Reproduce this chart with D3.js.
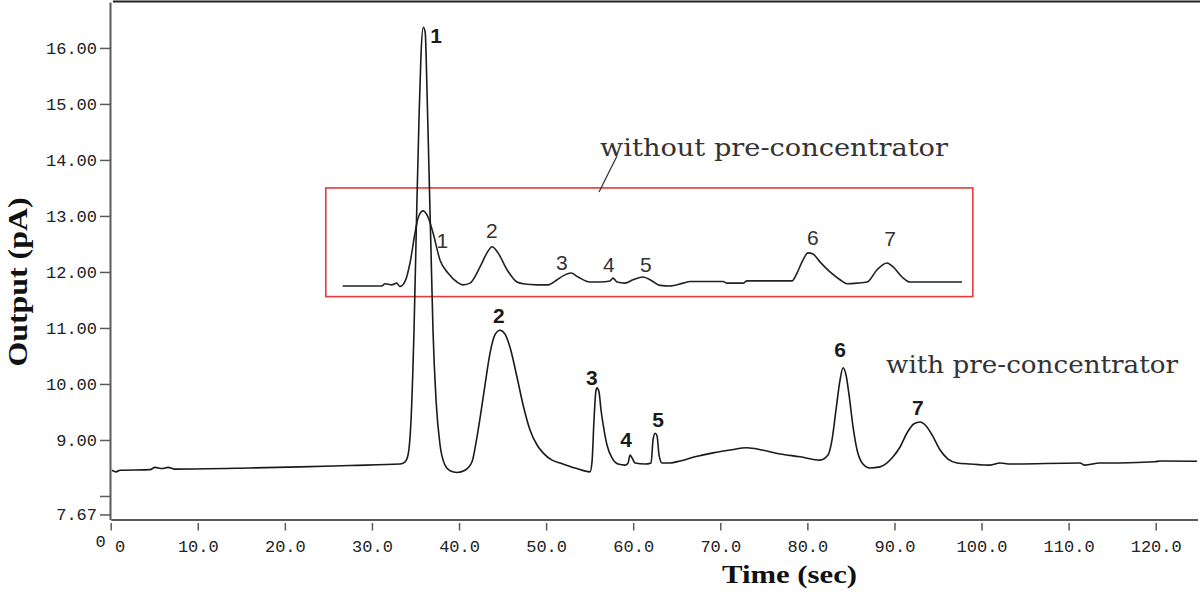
<!DOCTYPE html>
<html>
<head>
<meta charset="utf-8">
<script src="https://cdn.jsdelivr.net/npm/d3@7"></script>
<style>
  html, body { margin: 0; padding: 0; background: #fff; }
  svg { display: block; }
</style>
</head>
<body>
<svg id="chart" width="1200" height="597"></svg>
<script>
// ---------- data ----------
const xTicks = [0, 10, 20, 30, 40, 50, 60, 70, 80, 90, 100, 110, 120];
const xTickLabels = ["0", "10.0", "20.0", "30.0", "40.0", "50.0", "60.0", "70.0", "80.0", "90.0", "100.0", "110.0", "120.0"];
const yTicks = [7.67, 8, 9, 10, 11, 12, 13, 14, 15, 16];
const yTickLabels = ["7.67", "", "9.00", "10.00", "11.00", "12.00", "13.00", "14.00", "15.00", "16.00"];

// with pre-concentrator (time s, output pA)
const withTime = [0.15, 0.61, 1.07, 4.52, 5.09, 5.89, 6.58, 7.38, 15.99, 21.74, 27.48, 33.22, 33.8, 34.14, 34.49, 34.83, 35.17, 35.4, 35.63, 35.9, 36.12, 36.32, 36.55, 36.78, 37.01, 37.36, 37.82, 38.39, 38.97, 39.77, 40.69, 41.49, 42.06, 42.52, 42.98, 43.56, 44.13, 44.71, 45.28, 45.86, 46.66, 47.35, 48.15, 48.96, 49.65, 50.68, 51.6, 53.32, 55.04, 55.27, 55.5, 55.73, 55.84, 56.07, 56.3, 56.65, 56.99, 57.57, 58.26, 59.06, 59.41, 59.64, 59.87, 60.21, 61.36, 62.05, 62.28, 62.51, 62.74, 62.97, 63.31, 64.23, 65.38, 67.1, 69.17, 71.12, 73.07, 74.79, 76.86, 79.16, 81.45, 82.37, 82.83, 83.29, 83.75, 84.1, 84.44, 84.79, 85.25, 85.71, 86.29, 87.2, 88.34, 89.84, 90.64, 91.44, 92.25, 92.94, 93.63, 94.32, 95.24, 96.15, 97.19, 98.68, 100.98, 102.13, 103.27, 111.3, 111.87, 113.6, 115.9, 119.9, 120.5, 124.75];
const withValue = [8.46, 8.43, 8.46, 8.47, 8.51, 8.49, 8.51, 8.48, 8.5, 8.52, 8.545, 8.57, 8.61, 8.73, 9.36, 10.96, 13.29, 14.71, 15.875, 16.37, 16.27, 15.25, 13.82, 12.39, 10.96, 9.71, 8.91, 8.55, 8.45, 8.42, 8.46, 8.61, 9.05, 9.5, 9.98, 10.55, 10.88, 10.96, 10.89, 10.65, 10.12, 9.63, 9.18, 8.91, 8.77, 8.64, 8.59, 8.5, 8.43, 8.61, 9.36, 9.89, 9.93, 9.86, 9.54, 9.18, 8.91, 8.68, 8.57, 8.55, 8.59, 8.73, 8.68, 8.59, 8.57, 8.59, 9.0, 9.12, 9.07, 8.73, 8.59, 8.59, 8.625, 8.7, 8.77, 8.82, 8.86, 8.82, 8.75, 8.7, 8.64, 8.73, 9.0, 9.54, 10.07, 10.29, 10.16, 9.8, 9.23, 8.82, 8.59, 8.5, 8.52, 8.7, 8.875, 9.125, 9.29, 9.32, 9.25, 9.09, 8.82, 8.66, 8.59, 8.57, 8.55, 8.59, 8.57, 8.59, 8.55, 8.59, 8.59, 8.61, 8.625, 8.62];

// without pre-concentrator (inset trace)
const withoutTime = [26.64, 31.12, 31.5, 32.27, 32.84, 33.22, 33.8, 34.37, 34.95, 35.29, 35.86, 36.44, 37.01, 37.82, 38.73, 39.77, 40.46, 41.26, 42.41, 43.21, 43.79, 44.48, 45.51, 46.66, 47.35, 48.96, 50.22, 51.26, 51.94, 52.86, 53.67, 55.04, 56.19, 57.34, 57.68, 58.14, 59.06, 59.98, 61.13, 62.16, 63.08, 64.23, 65.72, 66.53, 70.32, 70.77, 72.61, 73.07, 78.24, 78.81, 79.39, 80.08, 80.65, 81.45, 82.6, 83.75, 84.56, 85.71, 86.86, 88.0, 89.15, 89.84, 90.88, 91.79, 92.94, 94.43, 97.76];
const withoutValue = [11.75, 11.75, 11.79, 11.77, 11.8, 11.74, 11.83, 12.16, 12.7, 12.96, 13.09, 12.98, 12.7, 12.21, 11.98, 11.82, 11.77, 11.8, 12.09, 12.34, 12.45, 12.34, 12.04, 11.82, 11.79, 11.77, 11.77, 11.86, 11.93, 11.98, 11.91, 11.82, 11.82, 11.84, 11.89, 11.82, 11.8, 11.86, 11.91, 11.84, 11.76, 11.75, 11.8, 11.83, 11.83, 11.8, 11.8, 11.84, 11.84, 11.98, 12.18, 12.34, 12.32, 12.18, 12.0, 11.86, 11.79, 11.8, 11.82, 12.04, 12.16, 12.09, 11.91, 11.82, 11.82, 11.82, 11.82];

// peak labels (anchor: centre x in seconds, baseline in pA)
const peakNames = ["1", "2", "3", "4", "5", "6", "7"];
const withLabelT = [37.36, 44.57, 55.25, 59.18, 62.85, 83.75, 92.7];
const withLabelV = [16.09, 11.09, 9.98, 8.875, 9.23, 10.48, 9.45];
const withoutLabelT = [38.07, 43.78, 51.82, 57.2, 61.45, 80.62, 89.5];
const withoutLabelV = [12.43, 12.61, 12.04, 12.0, 12.0, 12.48, 12.46];

// box around inset trace (seconds / pA) and annotation texts
const boxT = [24.7, 99.0];
const boxV = [11.56, 13.5];
const annotationWithout = "without pre-concentrator";
const annotationWith = "with pre-concentrator";
const xTitle = "Time (sec)";
const yTitle = "Output (pA)";

// ---------- chart ----------
const svg = d3.select("#chart");
const x = d3.scaleLinear().domain([0, 124.8]).range([110.7, 1197.5]);
const y = d3.scaleLinear().domain([7.58, 16.82]).range([519.5, 2]);

const monoFont = "'Liberation Mono', 'DejaVu Sans Mono', monospace";
const axisColor = "#5a5a5a";

// top border
svg.append("line")
  .attr("x1", 113).attr("x2", 1200).attr("y1", 1.5).attr("y2", 1.5)
  .attr("stroke", "#222").attr("stroke-width", 2);

// y axis
const yAxis = svg.append("g")
  .attr("transform", `translate(${x(0) - 0.7},0)`)
  .call(d3.axisLeft(y).tickValues(yTicks)
    .tickFormat((d, i) => yTickLabels[i]).tickSize(10).tickSizeOuter(0).tickPadding(3));
yAxis.select(".domain").attr("stroke", axisColor).attr("stroke-width", 2);
yAxis.selectAll(".tick line").attr("stroke", axisColor).attr("stroke-width", 1.5);
yAxis.selectAll(".tick text")
  .attr("font-family", monoFont).attr("font-size", 17).attr("fill", "#222");

// x axis
const xAxis = svg.append("g")
  .attr("transform", `translate(0,${y(7.58)})`)
  .call(d3.axisBottom(x).tickValues(xTicks)
    .tickFormat((d, i) => xTickLabels[i]).tickSize(0).tickSizeOuter(0));
xAxis.select(".domain").attr("stroke", axisColor).attr("stroke-width", 2.2);
xAxis.selectAll(".tick line")
  .attr("y1", 3.5).attr("y2", 11).attr("stroke", axisColor).attr("stroke-width", 1.5);
xAxis.selectAll(".tick text")
  .attr("font-family", monoFont).attr("font-size", 17).attr("fill", "#222")
  .attr("y", 32.5).attr("dy", 0)
  .attr("dx", (d, i) => i === 0 ? 9 : 0);

// origin "0"
svg.append("text")
  .attr("x", x(0) - 10).attr("y", 547)
  .attr("text-anchor", "middle")
  .attr("font-family", monoFont).attr("font-size", 17).attr("fill", "#222")
  .text("0");

// axis titles
svg.append("text")
  .attr("x", 789.5).attr("y", 583)
  .attr("text-anchor", "middle")
  .attr("font-family", "'Liberation Serif', 'Times New Roman', serif")
  .attr("font-weight", "bold").attr("font-size", 26).attr("fill", "#111")
  .attr("textLength", 135).attr("lengthAdjust", "spacingAndGlyphs")
  .text(xTitle);
svg.append("text")
  .attr("transform", "translate(27,282) rotate(-90)")
  .attr("text-anchor", "middle")
  .attr("font-family", "'Liberation Serif', 'Times New Roman', serif")
  .attr("font-weight", "bold").attr("font-size", 27).attr("fill", "#111")
  .attr("textLength", 169).attr("lengthAdjust", "spacingAndGlyphs")
  .text(yTitle);

// red box
svg.append("rect")
  .attr("x", x(boxT[0])).attr("y", y(boxV[1]))
  .attr("width", x(boxT[1]) - x(boxT[0])).attr("height", y(boxV[0]) - y(boxV[1]))
  .attr("fill", "none").attr("stroke", "#e53a3a").attr("stroke-width", 1.6);

// traces
const line = d3.line().x(d => x(d[0])).y(d => y(d[1])).curve(d3.curveMonotoneX);
const withData = withTime.map((t, i) => [t, withValue[i]]);
const withoutData = withoutTime.map((t, i) => [t, withoutValue[i]]);

svg.append("path").datum(withoutData)
  .attr("d", line).attr("fill", "none")
  .attr("stroke", "#222").attr("stroke-width", 1.6).attr("stroke-linejoin", "round");
svg.append("path").datum(withData)
  .attr("d", line).attr("fill", "none")
  .attr("stroke", "#1a1a1a").attr("stroke-width", 1.6).attr("stroke-linejoin", "round");

// peak labels
svg.append("g").selectAll("text").data(peakNames).join("text")
  .attr("x", (d, i) => x(withLabelT[i])).attr("y", (d, i) => y(withLabelV[i]))
  .attr("text-anchor", "middle")
  .attr("font-family", "'Liberation Sans', Arial, sans-serif")
  .attr("font-weight", "bold").attr("font-size", 21).attr("fill", "#1a1a1a")
  .text(d => d);
svg.append("g").selectAll("text").data(peakNames).join("text")
  .attr("x", (d, i) => x(withoutLabelT[i])).attr("y", (d, i) => y(withoutLabelV[i]))
  .attr("text-anchor", "middle")
  .attr("font-family", "'Liberation Sans', Arial, sans-serif")
  .attr("font-size", 21).attr("fill", "#333")
  .text(d => d);

// annotations
svg.append("text")
  .attr("x", 600).attr("y", 156)
  .attr("font-family", "'DejaVu Serif', serif").attr("font-size", 25).attr("fill", "#333")
  .attr("textLength", 348).attr("lengthAdjust", "spacingAndGlyphs")
  .text(annotationWithout);
svg.append("line")
  .attr("x1", 617).attr("y1", 156).attr("x2", 599).attr("y2", 192)
  .attr("stroke", "#333").attr("stroke-width", 1.2);
svg.append("text")
  .attr("x", 886).attr("y", 373)
  .attr("font-family", "'DejaVu Serif', serif").attr("font-size", 25).attr("fill", "#333")
  .attr("textLength", 292).attr("lengthAdjust", "spacingAndGlyphs")
  .text(annotationWith);
</script>
</body>
</html>
